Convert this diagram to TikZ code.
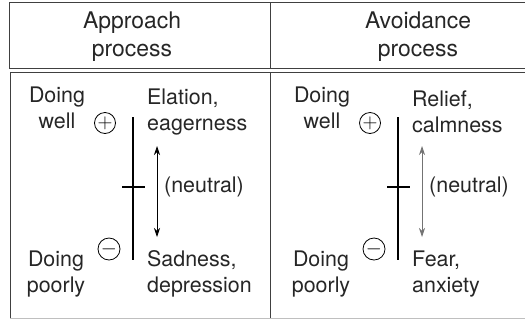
\documentclass[tikz,border=0pt]{standalone}
\usepackage{fontspec}
\setmainfont{TeX Gyre Heros}
\usetikzlibrary{arrows.meta,positioning}

\begin{document}
\begin{tikzpicture}[x=1bp,y=-1bp,
  head/.style={font=\fontsize{23}{28}\selectfont, align=center, inner sep=0pt, text=black!85},
  lab/.style={font=\fontsize{21.5}{25.5}\selectfont, inner sep=0pt, text=black!85},
  sign/.style={draw, circle, line width=0.8bp, minimum size=21bp, inner sep=0pt, font=\fontsize{21}{21}\selectfont}]
\useasboundingbox (0,0) rectangle (525,320);

% table frame
\draw[line width=0.8bp, black!75] (527,2) -- (9,2) -- (9,68) -- (527,68);
\draw[line width=0.8bp, black!75] (270,2) -- (270,68);
\draw[line width=0.8bp, black!75] (527,72) -- (10,72) -- (10,318);
\draw[line width=0.8bp, black!75] (270,72) -- (270,318);
\draw[line width=0.6bp, black!25] (10,318) -- (527,318);

\node[head] (hApp) at (132,37) {Approach\\process};
\node[head] (hAvo) at (418,37) {Avoidance\\process};

% the two panels
\foreach \i/\dx/\up/\down/\acol in {1/0/{Elation,\\eagerness}/{Sadness,\\depression}/black,
                                   2/265/{Relief,\\calmness}/{Fear,\\anxiety}/black!55} {
  \begin{scope}[xshift=\dx bp]
    \node[lab, align=center] (well\i) at (57,108) {Doing\\well};
    \node[lab, align=center] (poor\i) at (56,274) {Doing\\poorly};
    \node[sign] (plus\i) at (105,123) {$+$};
    \node[sign, minimum width=22bp] (minus\i) at (109,249) {$-$};
    \coordinate (top\i) at (133,117);
    \coordinate (bot\i) at (133,260);
    \coordinate (mid\i) at (133,187);
    \draw[line width=1.6bp] (top\i) -- (bot\i);
    \draw[line width=1.2bp] ([xshift=-11bp]mid\i) -- ([xshift=12bp]mid\i);
    \node[lab, align=left, anchor=west] (pos\i) at (147,112) {\up};
    \node[lab, align=left, anchor=west] (neg\i) at (147,274) {\down};
    \node[lab, anchor=west] (neu\i) at (164,187) {(neutral)};
    \coordinate (aTop\i) at (157,146);
    \coordinate (aBot\i) at (157,237);
    \draw[{Stealth[length=9bp,width=6bp]}-{Stealth[length=9bp,width=6bp]}, line width=0.8bp, \acol] (aTop\i) -- (aBot\i);
  \end{scope}
}
\end{tikzpicture}
\end{document}
